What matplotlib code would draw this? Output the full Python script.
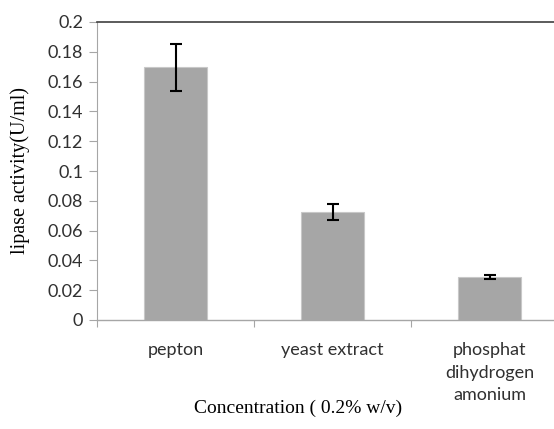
import matplotlib
matplotlib.use("Agg")
import matplotlib.pyplot as plt
import numpy as np

categories = ["pepton", "yeast extract", "phosphat\ndihydrogen\namonium"]
activity = [0.1695, 0.0722, 0.0286]
errors = [0.0155, 0.0054, 0.0014]
y_ticks = [0, 0.02, 0.04, 0.06, 0.08, 0.1, 0.12, 0.14, 0.16, 0.18, 0.2]
y_tick_labels = ["0", "0.02", "0.04", "0.06", "0.08", "0.1", "0.12", "0.14", "0.16", "0.18", "0.2"]

SANS = "Lato"
SERIF = "Liberation Serif"
TEXT = "#303030"
AXIS = "#a6a6a6"

fig = plt.figure(figsize=(5.54, 4.29), dpi=100)
ax = fig.add_axes([97 / 554, 109 / 429, 471 / 554, 298 / 429])

x = np.arange(len(categories))
ax.bar(x, activity, width=0.4, color="#a6a6a6", edgecolor="#c8c8c8", linewidth=0.8, zorder=2)
ax.errorbar(x, activity, yerr=errors, fmt="none", ecolor="black", elinewidth=1.5,
            capsize=4, capthick=1.5, zorder=3)

ax.set_xlim(-0.5, len(categories) - 0.5)
ax.set_ylim(0, 0.2)
ax.set_yticks(y_ticks, labels=y_tick_labels)
ax.set_xticks(x, labels=categories)
ax.set_xticks(np.arange(len(categories) + 1) - 0.5, minor=True)

ax.tick_params(axis="y", direction="out", length=6, width=0.8, color=AXIS,
               labelsize=13, labelcolor=TEXT, pad=4)
ax.tick_params(axis="x", which="major", length=0, labelsize=13, labelcolor=TEXT, pad=16)
ax.tick_params(axis="x", which="minor", direction="out", length=5, width=0.8, color=AXIS)
for lab in ax.get_xticklabels() + ax.get_yticklabels():
    lab.set_fontfamily(SANS)
    lab.set_linespacing(1.5)

ax.spines["right"].set_visible(False)
ax.spines["left"].set_color(AXIS)
ax.spines["bottom"].set_color(AXIS)
ax.spines["left"].set_linewidth(0.8)
ax.spines["bottom"].set_linewidth(1.0)
ax.spines["top"].set_color("#404040")
ax.spines["top"].set_linewidth(1.2)

fig.text(20 / 554, 1 - 171 / 429, "lipase activity(U/ml)", rotation=90, ha="center", va="center",
         fontsize=14.5, family=SERIF, color="black")
fig.text(298 / 554, 1 - 408 / 429, "Concentration ( 0.2% w/v)", ha="center", va="center",
         fontsize=14, family=SERIF, color="black")

fig.savefig("out.png", dpi=100)
